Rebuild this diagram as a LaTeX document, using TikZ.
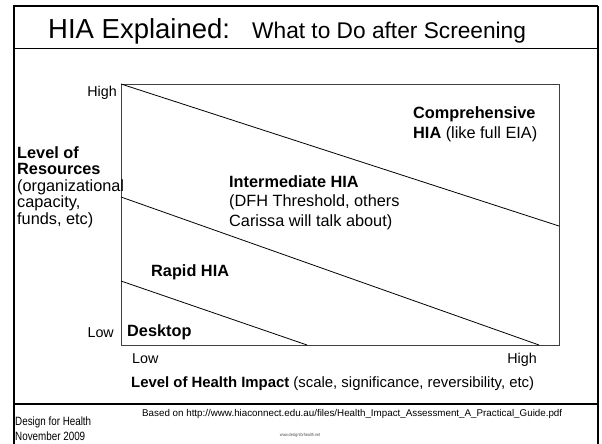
\documentclass[tikz,border=0pt]{standalone}
\usepackage{fontspec}
\setmainfont{Liberation Sans}
\newfontfamily\narrowfont[FakeStretch=0.82]{Liberation Sans}
\begin{document}
\begin{tikzpicture}[x=1pt,y=-1pt,
  lbl/.style={inner sep=0pt, anchor=base west, font=\fontsize{16.3}{19.5}\selectfont},
  axl/.style={inner sep=0pt, font=\fontsize{14.3}{17}\selectfont},
  foot/.style={inner sep=0pt, anchor=base west, font=\narrowfont\fontsize{12}{14}\selectfont},
  zone/.style={line width=0.8pt, black},
  frame/.style={line width=2.6pt, black}]
\useasboundingbox (0,0) rectangle (602,444);
% outer frame
\draw[frame] (14,446) -- (14,6) -- (598,6);
\draw[line width=1.3pt] (598,6) -- (598,446);
\draw[line width=1pt] (14,49) -- (598,49);
\draw[line width=1.4pt] (14,404) -- (598,404);
% title
\node[inner sep=0pt, anchor=base west, font=\fontsize{27.5}{32}\selectfont] (title) at (48,38) {HIA Explained:};
\node[inner sep=0pt, anchor=base west, font=\fontsize{22.7}{26}\selectfont] (subtitle) at (252,38) {What to Do after Screening};
% chart area
\coordinate (tl) at (121,84);
\coordinate (br) at (559,345);
\draw[line width=0.9pt, black!75] (tl) rectangle (br);
\coordinate (a1) at (121,84);  \coordinate (b1) at (559,226);
\coordinate (a2) at (121,197); \coordinate (b2) at (539,345);
\coordinate (a3) at (121,281); \coordinate (b3) at (307,345);
\draw[zone] (a1) -- (b1);
\draw[zone] (a2) -- (b2);
\draw[zone] (a3) -- (b3);
% zone labels
\node[lbl] (comp1) at (413,118) {\bfseries Comprehensive};
\node[lbl] (comp2) at (413,138) {\bfseries HIA\mdseries{} (like full EIA)};
\node[lbl] (int1) at (229,187) {\bfseries Intermediate HIA};
\node[lbl] (int2) at (229,206.5) {(DFH Threshold, others};
\node[lbl] (int3) at (229,226) {Carissa will talk about)};
\node[lbl] (rapid) at (151,276.5) {\bfseries Rapid HIA};
\node[lbl] (desk) at (127,336) {\bfseries Desktop};
% axes
\node[axl, anchor=base east] (yhigh) at (117,96) {High};
\node[axl, anchor=base east] (ylow) at (114,337) {Low};
\node[axl, anchor=base west] (xlow) at (132,363) {Low};
\node[axl, anchor=base east] (xhigh) at (537,363) {High};
\node[lbl, font=\fontsize{14.9}{17}\selectfont] (xtitle) at (131,387) {\bfseries Level of Health Impact\mdseries{} (scale, significance, reversibility, etc)};
\node[lbl] (y1) at (17,158) {\bfseries Level of};
\node[lbl] (y2) at (17,174.5) {\bfseries Resources};
\node[lbl] (y3) at (17,191) {(organizational};
\node[lbl] (y4) at (17,207.5) {capacity,};
\node[lbl] (y5) at (17,224) {funds, etc)};
% footer
\node[foot] (dfh) at (15,425.5) {Design for Health};
\node[foot] (nov) at (15,440) {November 2009};
\node[inner sep=0pt, anchor=base west, font=\fontsize{9.8}{11}\selectfont] (based) at (142,416)
  {Based on http://www.hiaconnect.edu.au/files/Health\_Impact\_Assessment\_A\_Practical\_Guide.pdf};
\node[inner sep=0pt, anchor=base, font=\narrowfont\fontsize{4.5}{5}\selectfont, black!70] (www) at (300,436) {www.designforhealth.net};
\end{tikzpicture}
\end{document}
